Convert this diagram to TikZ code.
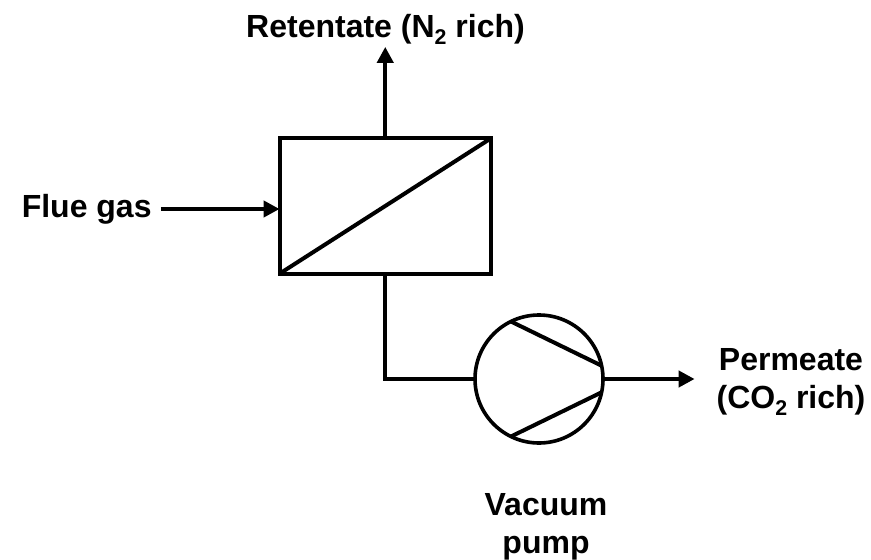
\documentclass[tikz,border=0pt]{standalone}
\usepackage{fontspec}
\setmainfont{Liberation Sans}
\usetikzlibrary{positioning,arrows.meta}

\newcommand{\subtwo}{\raisebox{-.22em}{\fontsize{16}{16}\selectfont 2}}

\begin{document}
\begin{tikzpicture}[
			x=.75pt,y=-.75pt,
			line width=3pt,
			>={Triangle[length=12pt,width=12pt]},
			unit/.style={
					draw,
					outer sep=0pt,
					inner sep=0pt
				},
			stream/.style={
					align=center,
					font=\fontsize{24}{28.8}\selectfont\bfseries,
					inner sep=0pt
				}
		]

		\useasboundingbox (0,0) rectangle (871,560);

		\node (membrane) [unit,minimum width=158.5pt,minimum height=101.5pt] at (385.25,206) {};

		\node (pump) [unit,circle,line width=2.7pt,minimum size=96pt] at (539,379) {};

		\node (retentate) [stream] at (385.5,29) {Retentate (N\subtwo{} rich)};
		\coordinate (retout) at ([yshift=68.6pt]membrane.north);

		\node (flue) [stream,left=89pt of membrane,yshift=-2.25pt,inner xsep=5.5pt] {Flue gas};

		\node (permeate) [stream,inner xsep=15pt] at (791,382)
		{Permeate\\(CO\subtwo{} rich)};

		\node (vacuum) [stream] at (546,527) {Vacuum\\pump};

		% membrane and pump blades
		\draw (membrane.south west) -- (membrane.north east);
		\draw (pump.116) -- (pump.12);
		\draw (pump.-116) -- (pump.-12);

		\draw[->] (membrane.north) -- (retout);
		\draw[->] (flue.east) -- (flue.east -| membrane.west);
		\draw (membrane.south) |- (pump.west);
		\draw[->] (pump.east) -- (pump.east -| permeate.west);

	\end{tikzpicture}
\end{document}
